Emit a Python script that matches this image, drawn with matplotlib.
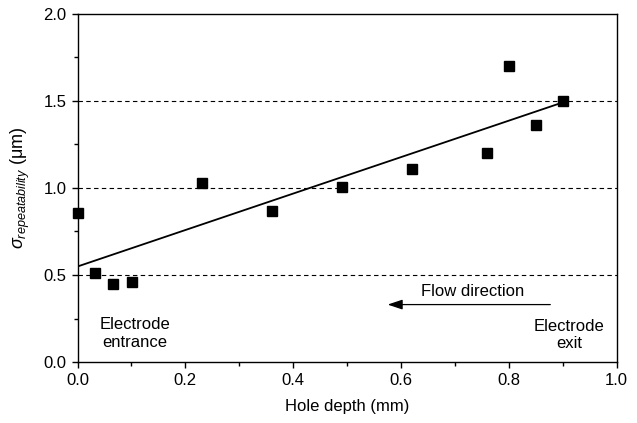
import numpy as np
import matplotlib
matplotlib.use("Agg")
import matplotlib.pyplot as plt
from matplotlib.ticker import MultipleLocator

plt.rcParams['font.family'] = ['Liberation Sans', 'DejaVu Sans']
plt.rcParams['mathtext.fontset'] = 'custom'
plt.rcParams['mathtext.it'] = 'Liberation Sans:italic'
plt.rcParams['mathtext.rm'] = 'Liberation Sans'

# hole depth (mm) and repeatability (um)
depth = [0.0, 0.0325, 0.066, 0.1005, 0.23, 0.36, 0.49, 0.62, 0.76, 0.80, 0.85, 0.90]
sigma = [0.855, 0.51, 0.448, 0.458, 1.027, 0.87, 1.004, 1.107, 1.199, 1.70, 1.364, 1.502]
grid_levels = [0.5, 1.0, 1.5]

fig = plt.figure(figsize=(6.37, 4.23), dpi=100)
ax = fig.add_axes([77.5/637, 1-362/423, (616.7-77.5)/637, (362-14)/423])

for lv in grid_levels:
    ax.axhline(lv, color='black', lw=0.8, ls=(0, (4, 3)), zorder=1)

# linear fit through the points
k, b = np.polyfit(depth, sigma, 1)
xf = np.array([0.0, max(depth)])
ax.plot(xf, k*xf + b, color='black', lw=1.3, zorder=2)

ax.plot(depth, sigma, 's', color='black', ms=7.3, zorder=3, clip_on=False)

ax.annotate('', xy=(0.570, 0.33), xytext=(0.882, 0.33),
            arrowprops=dict(arrowstyle='-|>,head_length=0.9,head_width=0.3',
                            color='black', lw=0.9))
fs = 12
ax.text(0.733, 0.408, 'Flow direction', ha='center', va='center', fontsize=fs)
ax.text(0.107, 0.163, 'Electrode\nentrance', ha='center', va='center',
        fontsize=fs, linespacing=1.2)
ax.text(0.912, 0.155, 'Electrode\nexit', ha='center', va='center',
        fontsize=fs, linespacing=1.2)

ax.set_xlim(0, 1.0)
ax.set_ylim(0, 2.0)
ax.xaxis.set_major_locator(MultipleLocator(0.2))
ax.xaxis.set_minor_locator(MultipleLocator(0.1))
ax.yaxis.set_major_locator(MultipleLocator(0.5))
ax.yaxis.set_minor_locator(MultipleLocator(0.25))
ax.xaxis.set_major_formatter(lambda v, p: f'{v:.1f}')
ax.yaxis.set_major_formatter(lambda v, p: f'{v:.1f}')
ax.tick_params(which='major', direction='out', length=4, width=1, labelsize=fs, pad=4)
ax.tick_params(which='minor', direction='out', length=3, width=1)
for s in ax.spines.values():
    s.set_linewidth(1.0)

ax.set_xlabel('Hole depth (mm)', fontsize=fs, labelpad=8)
ax.set_ylabel(r'$\sigma_{repeatability}$ (μm)', fontsize=fs, labelpad=8)
ax.yaxis.label.set_size(13)

fig.savefig('out.png', dpi=100)
